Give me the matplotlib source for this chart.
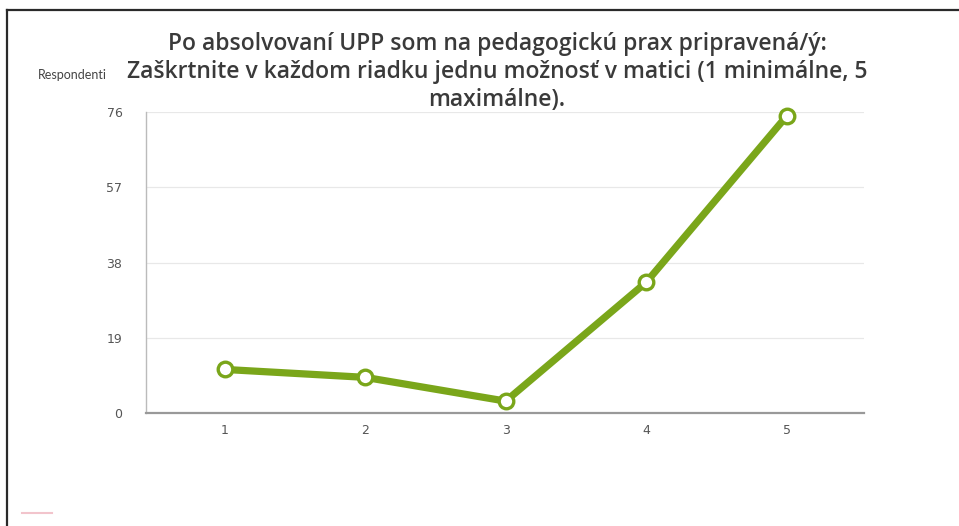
import matplotlib
matplotlib.use("Agg")
import matplotlib.pyplot as plt
from matplotlib.lines import Line2D

categories = [1, 2, 3, 4, 5]
values = [11, 9, 3, 33, 75]
yticks = [0, 19, 38, 57, 76]
title = ("Po absolvovaní UPP som na pedagogickú prax pripravená/ý:\n"
         "Zaškrtnite v každom riadku jednu možnosť v matici (1 minimálne, 5\n"
         "maximálne).")
ylabel = "Respondenti"

W, H = 959, 526
fig = plt.figure(figsize=(W / 100, H / 100), dpi=100)
fig.patch.set_facecolor("white")

ax = fig.add_axes([146 / W, 1 - 413 / H, (864 - 146) / W, (413 - 112) / H])
ax.set_xlim(0.44, 5.55)
ax.set_ylim(0, 76)
ax.set_yticks(yticks)
ax.set_yticklabels([str(t) for t in yticks])
ax.set_xticks(categories)
ax.set_xticklabels([str(c) for c in categories])
ax.tick_params(axis="both", length=0, colors="#555555", labelsize=9)
ax.tick_params(axis="y", pad=17)
ax.tick_params(axis="x", pad=8)
ax.grid(axis="y", color="#e8e8e8", linewidth=0.9)
ax.set_axisbelow(True)
for s in ["top", "right"]:
    ax.spines[s].set_visible(False)
ax.spines["left"].set_color("#bbbbbb")
ax.spines["left"].set_linewidth(1.0)
ax.spines["bottom"].set_color("#999999")
ax.spines["bottom"].set_linewidth(1.6)

ax.plot(categories, values, color="#7aa61a", linewidth=5.2, solid_capstyle="butt",
        marker="o", markersize=10.5, markerfacecolor="white",
        markeredgecolor="#7aa61a", markeredgewidth=2.4, clip_on=False, zorder=3)

fig.text(497 / W, 1 - 72 / H, title, ha="center", va="center",
         fontsize=16.5, fontweight="semibold", color="#3a3a3a",
         family=["Open Sans", "DejaVu Sans"], linespacing=1.22,
         transform=fig.transFigure)
fig.text(38 / W, 1 - 75 / H, ylabel, ha="left", va="center", fontsize=9,
         color="#444444", family=["Lato", "DejaVu Sans"])

# frame lines (top and left) of the screenshot
fig.add_artist(Line2D([7 / W, 1.0], [1 - 10 / H, 1 - 10 / H], color="#2a2a2a",
                      linewidth=1.6, transform=fig.transFigure))
fig.add_artist(Line2D([7 / W, 7 / W], [0, 1 - 10 / H], color="#2a2a2a",
                      linewidth=1.6, transform=fig.transFigure))
# faint pink mark bottom-left
fig.add_artist(Line2D([22 / W, 52 / W], [1 - 513 / H, 1 - 513 / H], color="#f2c4cc",
                      linewidth=1.5, transform=fig.transFigure))

fig.savefig("out.png", dpi=100, facecolor="white")
